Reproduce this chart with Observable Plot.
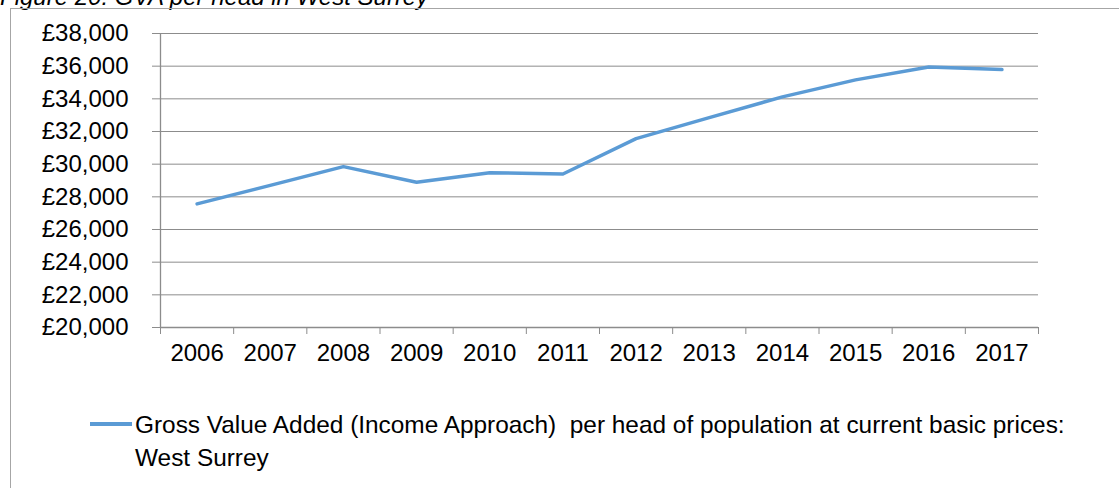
<!DOCTYPE html>
<html>
<head>
<meta charset="utf-8">
<script src="https://cdn.jsdelivr.net/npm/d3@7"></script>
<script src="https://cdn.jsdelivr.net/npm/@observablehq/plot@0.6"></script>
<style>
  html, body { margin: 0; padding: 0; background: #fff; }
  #wrap { position: relative; width: 1119px; height: 488px; overflow: hidden; font-family: "Liberation Sans", Arial, sans-serif; color: #000; }
  #title { position: absolute; left: 0; top: -17px; font-size: 24px; font-style: italic; white-space: nowrap; }
  #frame { position: absolute; left: 10px; top: 8px; width: 1200px; height: 600px; border: 1.5px solid #a6a6a6; box-sizing: border-box; }
  #chart { position: absolute; left: 0; top: 0; }
  #legend { position: absolute; left: 90px; top: 408px; font-size: 24.4px; line-height: 33px; }
  #legend .sw { position: absolute; left: 0; top: 14px; width: 42px; height: 3.5px; background: #5b9bd5; }
  #legend .tx { position: absolute; left: 45px; top: 0; white-space: nowrap; }
</style>
</head>
<body>
<div id="wrap">
  <div id="title">Figure 20: GVA per head in West Surrey</div>
  <div id="frame"></div>
  <div id="chart"></div>
  <div id="legend"><div class="sw"></div><div class="tx">Gross Value Added (Income Approach)&nbsp; per head of population at current basic prices:<br>West Surrey</div></div>
</div>
<script>
const years = [2006, 2007, 2008, 2009, 2010, 2011, 2012, 2013, 2014, 2015, 2016, 2017];
const gva = [27570, 28700, 29850, 28890, 29480, 29400, 31560, 32850, 34120, 35160, 35950, 35790];
const yTicks = [20000, 22000, 24000, 26000, 28000, 30000, 32000, 34000, 36000, 38000];
const seriesName = "Gross Value Added (Income Approach)  per head of population at current basic prices: West Surrey";

const data = years.map((y, i) => ({year: y, value: gva[i]}));
const bounds = years.map(y => y - 0.5).concat([years[years.length - 1] + 0.5]);
const fmt = d => "£" + d3.format(",")(d);

const chart = Plot.plot({
  width: 1119,
  height: 380,
  marginLeft: 160,
  marginRight: 81,
  marginTop: 33,
  marginBottom: 53,
  style: {fontFamily: "'Liberation Sans', Arial, sans-serif", fontSize: "24px", color: "#000", background: "transparent"},
  x: {domain: [bounds[0], bounds[bounds.length - 1]], axis: null},
  y: {domain: [20000, 38000], axis: null},
  marks: [
    Plot.ruleY(yTicks, {y: d => d, x1: bounds[0], x2: bounds[bounds.length - 1], stroke: "#8c8c8c", strokeWidth: 1}),
    Plot.ruleY([20000], {x1: bounds[0], x2: bounds[bounds.length - 1], stroke: "#8c8c8c", strokeWidth: 1.3}),
    Plot.axisY({ticks: yTicks, tickSize: 8, tickPadding: 24, tickFormat: fmt, label: null, stroke: "#8c8c8c", fontSize: 24, fill: "#000"}),
    Plot.ruleX([bounds[0]], {y1: 20000, y2: 38000, stroke: "#8c8c8c", strokeWidth: 1.3}),
    Plot.axisX({ticks: bounds, tickSize: 7, tickFormat: () => "", label: null, stroke: "#8c8c8c"}),
    Plot.axisX({ticks: years, tickSize: 0, tickPadding: 16, tickFormat: d => String(d), label: null, fontSize: 24, fill: "#000"}),
    Plot.line(data, {x: "year", y: "value", stroke: "#5b9bd5", strokeWidth: 3.5, strokeLinejoin: "round", strokeLinecap: "round"})
  ]
});
document.getElementById("chart").appendChild(chart);
</script>
</body>
</html>
